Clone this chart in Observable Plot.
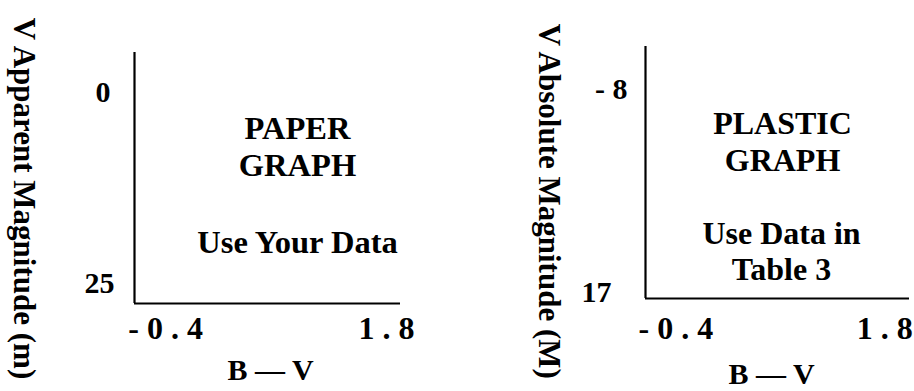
<!DOCTYPE html>
<html>
<head>
<meta charset="utf-8">
<script src="https://cdn.jsdelivr.net/npm/d3@7"></script>
<script src="https://cdn.jsdelivr.net/npm/@observablehq/plot@0.6"></script>
<style>
  html, body { margin: 0; padding: 0; background: #fff; }
  #chart { display: flex; width: 914px; height: 391px; overflow: hidden; }
</style>
</head>
<body>
<div id="chart"></div>
<script>
// ---- data ----
const xTicks = [-0.4, 1.8];
const paperYTicks = [0, 25];
const plasticYTicks = [-8, 17];
const paperXExtent = [-0.71, 1.94];
const paperYExtent = [-5.2, 27.6];
const plasticXExtent = [-0.72, 2.06];
const plasticYExtent = [-13.3, 17.8];
const xLabel = "B — V";
const paperYLabel = "V Apparent Magnitude (m)";
const plasticYLabel = "V Absolute Magnitude (M)";
const paperNotes = ["PAPER\nGRAPH", "Use Your Data"];
const plasticNotes = ["PLASTIC\nGRAPH", "Use Data in\nTable 3"];

// ---- rendering ----
const FONT = "'Liberation Serif', 'Times New Roman', serif";
const spaced = d => String(d).split("").join(" ");
const yFmt = d => d < 0 ? "- " + (-d) : String(d);

function panel(cfg) {
  return Plot.plot({
    width: 457,
    height: 391,
    marginLeft: cfg.ml,
    marginRight: cfg.mr,
    marginTop: cfg.mt,
    marginBottom: cfg.mb,
    style: {fontFamily: FONT, fontWeight: "bold", color: "black", background: "white", overflow: "visible"},
    x: {domain: cfg.xExtent},
    y: {domain: cfg.yExtent, reverse: true},
    marks: [
      Plot.ruleX([cfg.xExtent[0]], {stroke: "black", strokeWidth: 2.2}),
      Plot.ruleY([cfg.yExtent[1]], {stroke: "black", strokeWidth: 2.2}),
      Plot.axisX(xTicks, {tickSize: 0, tickPadding: cfg.xPad, fontSize: 32, fontWeight: "bold", tickFormat: spaced, label: null}),
      ...cfg.yTicks.map((t, i) => Plot.axisY([t], {tickSize: 0, tickPadding: cfg.yPad[i], fontSize: 30, fontWeight: "bold", tickFormat: yFmt, label: null})),
      Plot.text([cfg.yLabel], {text: d => d, frameAnchor: "left", textAnchor: "middle", lineAnchor: "middle", rotate: 90, dx: cfg.ylDx, dy: cfg.ylDy, fontSize: 31, fontWeight: "bold"}),
      Plot.text([xLabel], {text: d => d, frameAnchor: "bottom", textAnchor: "middle", lineAnchor: "middle", dx: cfg.xlDx, dy: cfg.xlDy, fontSize: 30, fontWeight: "bold"}),
      Plot.text([cfg.notes[0]], {text: d => d, frameAnchor: "middle", lineAnchor: "middle", dx: cfg.n1[0], dy: cfg.n1[1], fontSize: cfg.nSize, lineHeight: cfg.n1[2], fontWeight: "bold"}),
      Plot.text([cfg.notes[1]], {text: d => d, frameAnchor: "middle", lineAnchor: "middle", dx: cfg.n2[0], dy: cfg.n2[1], fontSize: cfg.nSize, lineHeight: cfg.n2[2], fontWeight: "bold"})
    ]
  });
}

const chart = document.getElementById("chart");
chart.append(panel({
  ml: 134, mr: 57, mt: 52, mb: 88,
  xExtent: paperXExtent, yExtent: paperYExtent, yTicks: paperYTicks,
  xPad: 13, yPad: [24, 20],
  yLabel: paperYLabel, ylDx: -111, ylDy: 20.5,
  xlDx: 3, xlDy: 67,
  notes: paperNotes, nSize: 32.5,
  n1: [30, -32, 1.13], n2: [30, 62.5, 1.2]
}));
chart.append(panel({
  ml: 188, mr: 5, mt: 46, mb: 93,
  xExtent: plasticXExtent, yExtent: plasticYExtent, yTicks: plasticYTicks,
  xPad: 18, yPad: [18, 34],
  yLabel: plasticYLabel, ylDx: -97, ylDy: 28.75,
  xlDx: -6, xlDy: 76,
  notes: plasticNotes, nSize: 32,
  n1: [5, -32, 1.17], n2: [4, 78, 1.12]
}));
</script>
</body>
</html>
